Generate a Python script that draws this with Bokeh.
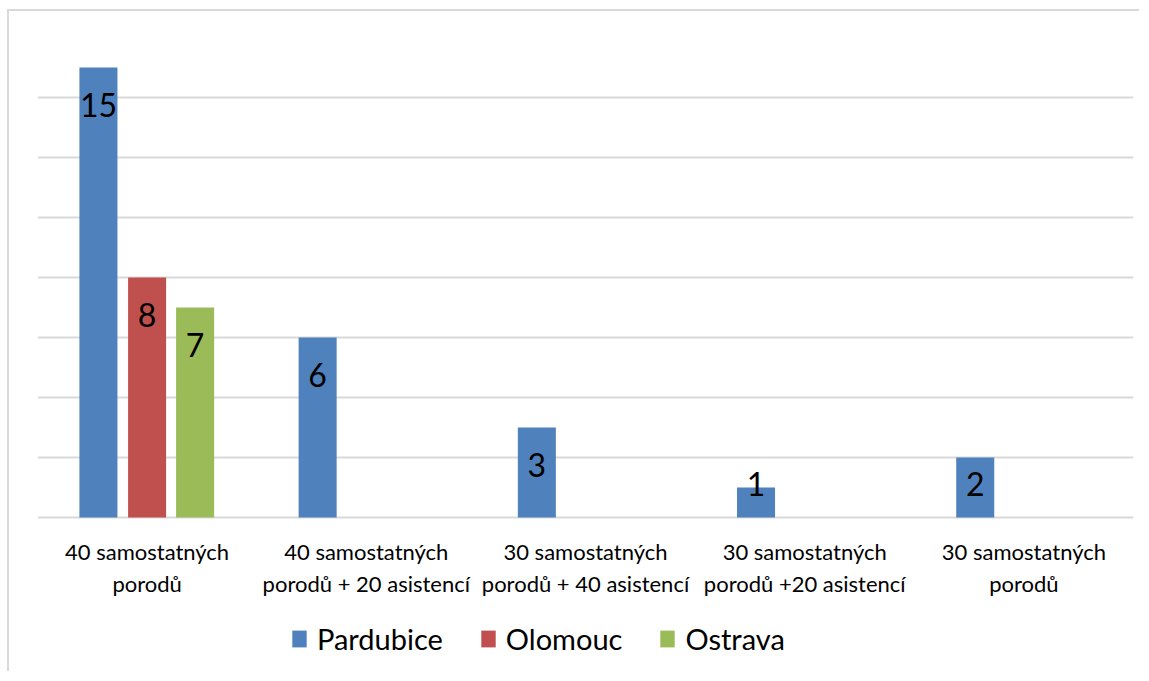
from bokeh.plotting import figure
from bokeh.models import ColumnDataSource, FactorRange, Range1d, FixedTicker, Legend, LegendItem
from bokeh.transform import dodge
from bokeh.core.properties import value
from bokeh.embed import file_html
from bokeh.resources import INLINE

categories = [
    "40 samostatných\nporodů",
    "40 samostatných\nporodů + 20 asistencí",
    "30 samostatných\nporodů + 40 asistencí",
    "30 samostatných\nporodů +20 asistencí",
    "30 samostatných\nporodů",
]
series_names = ["Pardubice", "Olomouc", "Ostrava"]
pardubice = [15, 6, 3, 1, 2]
olomouc = [8, None, None, None, None]
ostrava = [7, None, None, None, None]
y_ticks = [0, 2, 4, 6, 8, 10, 12, 14, 16]

colors = ["#4F81BD", "#C0504D", "#9BBB59"]
offsets = [-0.222, 0.0, 0.219]
FONT = "Lato"

p = figure(
    x_range=FactorRange(*categories, range_padding=0),
    y_range=Range1d(-5.2, 16),
    width=1132, height=662,
    output_backend="svg", toolbar_location=None,
    min_border_left=28, min_border_right=8, min_border_top=26, min_border_bottom=0,
)
p.outline_line_color = None
p.background_fill_color = "white"
p.border_fill_color = "white"
p.styles = {"border-left": "2px solid #d9d9d9", "border-top": "2px solid #d9d9d9",
            "margin-left": "7px", "margin-top": "9px"}

p.xaxis.visible = False
p.yaxis.visible = False
p.yaxis.ticker = FixedTicker(ticks=y_ticks)
p.ygrid.ticker = FixedTicker(ticks=y_ticks)
p.ygrid.grid_line_color = "#d9d9d9"
p.ygrid.grid_line_width = 2
p.xgrid.grid_line_color = None

# category labels beneath the baseline
cat_src = ColumnDataSource(dict(cat=categories, y=[0] * len(categories)))
p.text(x="cat", y="y", text="cat", source=cat_src, y_offset=20,
       text_align="center", text_baseline="top", text_font=value(FONT),
       text_font_size="22px", text_color="#000000", text_line_height=1.2)

items = []
for name, vals, col, off in zip(series_names, [pardubice, olomouc, ostrava], colors, offsets):
    cats = [c for c, v in zip(categories, vals) if v is not None]
    vs = [v for v in vals if v is not None]
    src = ColumnDataSource(dict(cat=cats, val=vs,
                                ly=[max(v - 1.24, 1.13) for v in vs],
                                txt=[str(v) for v in vs]))
    r = p.vbar(x=dodge("cat", off, range=p.x_range), top="val", bottom=0, width=0.1735,
               source=src, fill_color=col, line_color=None)
    p.text(x=dodge("cat", off, range=p.x_range), y="ly", text="txt", source=src,
           text_align="center", text_baseline="middle", text_font=value(FONT),
           text_font_size="32px", text_color="#000000")
    items.append(LegendItem(label=name, renderers=[r]))

legend = Legend(items=items, orientation="horizontal", location=(253, 17))
legend.label_text_font = FONT
legend.label_text_font_size = "29px"
legend.label_text_color = "#000000"
legend.glyph_width = 18
legend.glyph_height = 21
legend.label_standoff = 9
legend.spacing = 36
legend.padding = 0
legend.margin = 0
legend.border_line_color = None
legend.background_fill_alpha = 0
p.add_layout(legend, "center")

open("out.html", "w").write(file_html(p, INLINE))
